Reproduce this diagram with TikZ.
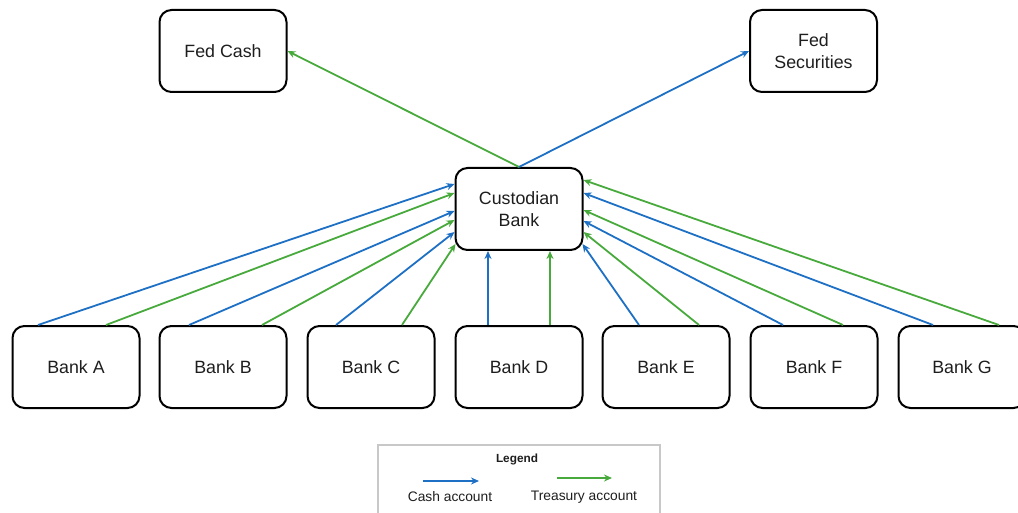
\documentclass[tikz,border=0pt]{standalone}
\usepackage{fontspec}
\setmainfont{Liberation Sans}
\usetikzlibrary{arrows.meta,calc}
\definecolor{cashblue}{RGB}{30,112,196}
\definecolor{treasgreen}{RGB}{72,170,60}
\definecolor{inkgrey}{RGB}{30,30,30}
\definecolor{legendframe}{RGB}{200,200,200}
\begin{document}
\begin{tikzpicture}[x=1pt,y=-1pt,
  box/.style={draw=black,line width=2pt,rounded corners=12pt,
    minimum width=127pt,minimum height=82pt,inner sep=0pt,align=center,
    text=inkgrey,font=\fontsize{17.8}{22.5}\selectfont},
  flow/.style={line width=1.8pt,-{Stealth[length=8pt,width=7pt]}},
  cash/.style={flow,draw=cashblue},
  treas/.style={flow,draw=treasgreen},
  legtext/.style={text=inkgrey,font=\fontsize{13.8}{16}\selectfont,inner sep=0pt}]
\useasboundingbox (0,0) rectangle (1018,513);

% Fed accounts
\node[box] (fedcash) at (223,51) {Fed Cash};
\node[box] (fedsec) at (813.5,51) {Fed\\Securities};

% Custodian
\node[box] (cust) at (519,209) {Custodian\\Bank};

% Member banks
\node[box] (bankA) at (76,367) {Bank A};
\node[box] (bankB) at (223,367) {Bank B};
\node[box] (bankC) at (371,367) {Bank C};
\node[box] (bankD) at (519,367) {Bank D};
\node[box] (bankE) at (666,367) {Bank E};
\node[box] (bankF) at (814,367) {Bank F};
\node[box] (bankG) at (962,367) {Bank G};

% Custodian to the Fed
\draw[treas] (cust.north) -- (fedcash.east);
\draw[cash] (cust.north) -- (fedsec.west);

% Banks on the left
\draw[cash]  ($(bankA.north)+(-38,0)$) -- ($(cust.west)+(0,-25)$);
\draw[treas] ($(bankA.north)+(30,0)$)  -- ($(cust.west)+(0,-16)$);
\draw[cash]  ($(bankB.north)+(-34,0)$) -- ($(cust.west)+(0,2)$);
\draw[treas] ($(bankB.north)+(39,0)$)  -- ($(cust.west)+(0,11)$);
\draw[cash]  ($(bankC.north)+(-35,0)$) -- ($(cust.west)+(0,23)$);
\draw[treas] ($(bankC.north)+(31,0)$)  -- ($(cust.west)+(1,35)$);

% Bank D straight up
\draw[cash]  ($(bankD.north)+(-31,0)$) -- ($(cust.south)+(-31,0)$);
\draw[treas] ($(bankD.north)+(31,0)$)  -- ($(cust.south)+(31,0)$);

% Banks on the right
\draw[cash]  ($(bankE.north)+(-27,0)$) -- ($(cust.east)+(-1,35)$);
\draw[treas] ($(bankE.north)+(33,0)$)  -- ($(cust.east)+(0,23)$);
\draw[cash]  ($(bankF.north)+(-31,0)$) -- ($(cust.east)+(0,12)$);
\draw[treas] ($(bankF.north)+(29,0)$)  -- ($(cust.east)+(0,1)$);
\draw[cash]  ($(bankG.north)+(-29,0)$) -- ($(cust.east)+(0,-16)$);
\draw[treas] ($(bankG.north)+(37,0)$)  -- ($(cust.east)+(0,-29)$);

% Legend
\node[draw=legendframe,line width=1.8pt,minimum width=282pt,minimum height=90pt,
  anchor=north west,inner sep=0pt] (legend) at (377,444) {};
\node[text=inkgrey,font=\bfseries\fontsize{11.8}{14}\selectfont] (legtitle) at (517,459) {Legend};
\coordinate (cashS) at (423,481);
\coordinate (cashE) at (479,481);
\coordinate (treasS) at (557,478);
\coordinate (treasE) at (612,478);
\draw[cash,line width=1.5pt]  (cashS) -- (cashE);
\draw[treas,line width=1.8pt] (treasS) -- (treasE);
\node[legtext] (cashlbl) at (450,497) {Cash account};
\node[legtext] (treaslbl) at (584,497) {Treasury account};
\end{tikzpicture}
\end{document}
